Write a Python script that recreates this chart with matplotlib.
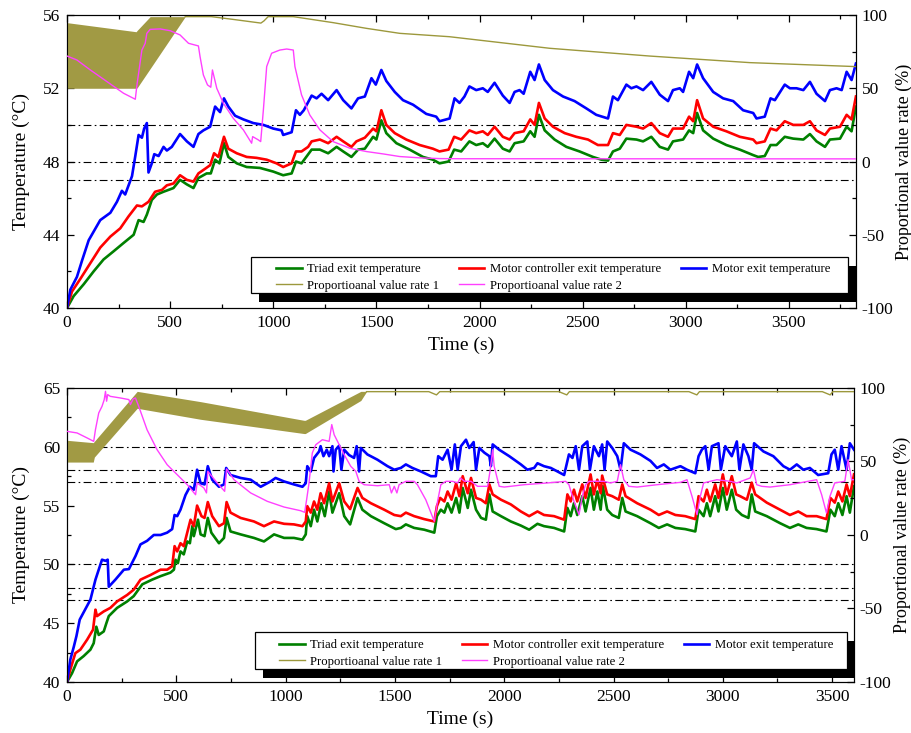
import matplotlib
matplotlib.use("Agg")
import matplotlib.pyplot as plt
from matplotlib.patches import Rectangle
from matplotlib.ticker import MultipleLocator

plt.rcParams['font.family'] = ['Liberation Serif', 'DejaVu Serif']
plt.rcParams['axes.unicode_minus'] = False

# ---------------- top panel data ----------------
top_blue_t = [0, 16, 48, 73, 105, 161, 210, 242, 266, 282, 315, 331, 347, 363, 374, 387, 395, 411, 423, 444,
              468, 484, 508, 548, 581, 613, 637, 661, 694, 718, 742, 761, 782, 815, 855, 903, 952, 1000, 1040,
              1048, 1089, 1110, 1129, 1148, 1186, 1210, 1234, 1266, 1307, 1339, 1379, 1411, 1444, 1476, 1497,
              1524, 1548, 1589, 1629, 1678, 1742, 1790, 1806, 1855, 1879, 1903, 1927, 1951, 1984, 2016, 2040,
              2073, 2113, 2146, 2170, 2194, 2214, 2246, 2267, 2288, 2316, 2356, 2405, 2461, 2518, 2566, 2623,
              2647, 2671, 2712, 2736, 2761, 2793, 2833, 2874, 2914, 2938, 2971, 2987, 3016, 3036, 3055, 3084,
              3133, 3181, 3230, 3278, 3327, 3343, 3383, 3411, 3432, 3480, 3505, 3537, 3570, 3602, 3634, 3675,
              3699, 3731, 3756, 3780, 3804, 3825]
top_blue = [40.0, 41.0, 41.7, 42.6, 43.7, 44.8, 45.2, 45.8, 46.4, 46.2, 47.2, 48.3, 49.45, 49.3, 49.8, 50.1,
            47.4, 47.9, 48.4, 48.3, 48.8, 48.6, 48.8, 49.5, 49.1, 48.8, 49.5, 49.7, 49.9, 51.0, 50.7, 51.45,
            51.0, 50.5, 50.3, 50.1, 50.0, 49.8, 49.7, 49.45, 49.6, 50.8, 50.55, 50.8, 51.6, 51.45, 51.7, 51.35,
            51.9, 51.35, 50.9, 51.45, 51.55, 52.55, 52.2, 53.0, 52.4, 51.8, 51.35, 51.1, 50.6, 50.45, 50.2,
            50.35, 51.45, 51.2, 51.55, 52.1, 51.9, 52.0, 51.8, 52.3, 51.6, 51.2, 51.8, 51.9, 51.7, 52.9, 52.45,
            53.3, 52.45, 51.9, 51.55, 51.3, 50.9, 50.55, 50.35, 51.55, 51.35, 52.2, 52.0, 52.1, 51.9, 52.35,
            51.65, 51.3, 51.9, 52.0, 51.8, 52.9, 52.55, 53.3, 52.55, 51.8, 51.45, 51.3, 50.8, 50.65, 50.35,
            50.45, 51.45, 51.35, 52.2, 52.0, 52.0, 51.9, 52.35, 51.7, 51.3, 51.9, 52.0, 51.9, 52.9, 52.45, 53.35]

top_red_t = [0, 24, 65, 113, 161, 210, 258, 298, 339, 363, 395, 427, 460, 484, 516, 548, 581, 613, 637, 669,
             694, 713, 734, 761, 782, 823, 871, 919, 968, 1016, 1048, 1089, 1110, 1137, 1169, 1186, 1226, 1266,
             1307, 1339, 1379, 1403, 1444, 1484, 1500, 1524, 1548, 1589, 1645, 1710, 1774, 1806, 1850, 1877,
             1911, 1951, 1984, 2016, 2040, 2073, 2113, 2146, 2170, 2214, 2246, 2267, 2288, 2316, 2356, 2413,
             2469, 2526, 2574, 2623, 2647, 2680, 2712, 2761, 2793, 2833, 2874, 2914, 2938, 2987, 3016, 3036,
             3055, 3084, 3133, 3197, 3262, 3327, 3343, 3383, 3411, 3440, 3480, 3521, 3570, 3602, 3634, 3675,
             3699, 3748, 3780, 3804, 3825]
top_red = [40.0, 40.9, 41.6, 42.45, 43.3, 43.9, 44.35, 45.0, 45.6, 45.55, 45.8, 46.35, 46.45, 46.7, 46.8,
           47.25, 47.0, 46.9, 47.35, 47.6, 47.8, 48.45, 48.25, 49.35, 48.7, 48.45, 48.25, 48.2, 48.1, 47.9,
           47.7, 47.9, 48.55, 48.55, 48.8, 49.1, 49.2, 49.0, 49.35, 49.1, 48.8, 49.1, 49.3, 49.8, 49.65, 50.8,
           50.0, 49.55, 49.2, 48.9, 48.7, 48.55, 48.65, 49.35, 49.2, 49.7, 49.55, 49.65, 49.45, 49.9, 49.35,
           49.2, 49.55, 49.65, 50.3, 50.0, 51.2, 50.35, 49.9, 49.55, 49.35, 49.2, 48.9, 48.9, 49.55, 49.45,
           50.0, 49.9, 49.8, 50.1, 49.55, 49.35, 49.8, 49.8, 50.45, 50.2, 51.35, 50.35, 49.9, 49.65, 49.35,
           49.2, 49.0, 49.1, 49.8, 49.7, 50.2, 50.0, 50.0, 50.2, 49.7, 49.45, 49.8, 49.9, 50.55, 50.3, 51.55]

top_green_t = [0, 32, 81, 129, 177, 226, 274, 323, 347, 371, 387, 411, 436, 468, 492, 516, 548, 581, 613, 637,
               677, 697, 718, 739, 761, 782, 823, 871, 935, 1000, 1048, 1089, 1110, 1137, 1186, 1226, 1266,
               1307, 1339, 1379, 1411, 1444, 1484, 1500, 1524, 1548, 1597, 1661, 1726, 1774, 1806, 1850, 1877,
               1911, 1951, 1984, 2016, 2040, 2073, 2113, 2146, 2170, 2214, 2246, 2267, 2288, 2316, 2364, 2421,
               2485, 2550, 2591, 2623, 2647, 2680, 2712, 2761, 2793, 2833, 2874, 2914, 2938, 2987, 3016, 3036,
               3055, 3084, 3133, 3197, 3262, 3327, 3351, 3383, 3411, 3440, 3480, 3521, 3570, 3602, 3634, 3675,
               3699, 3748, 3780, 3804, 3825]
top_green = [40.0, 40.65, 41.3, 42.0, 42.65, 43.1, 43.55, 44.0, 44.8, 44.7, 45.1, 45.9, 46.2, 46.35, 46.45,
             46.55, 47.0, 46.75, 46.55, 47.1, 47.35, 47.35, 48.1, 47.9, 49.0, 48.25, 47.9, 47.7, 47.65, 47.45,
             47.25, 47.35, 48.0, 47.9, 48.65, 48.65, 48.45, 48.8, 48.55, 48.25, 48.65, 48.7, 49.35, 49.2, 50.25,
             49.55, 49.0, 48.65, 48.25, 48.1, 47.9, 48.0, 48.65, 48.55, 49.1, 48.9, 49.0, 48.8, 49.25, 48.7,
             48.55, 49.0, 49.1, 49.65, 49.35, 50.55, 49.7, 49.2, 48.8, 48.55, 48.25, 48.1, 48.05, 48.55, 48.7,
             49.25, 49.2, 49.1, 49.35, 48.8, 48.65, 49.1, 49.2, 49.7, 49.55, 50.65, 49.7, 49.25, 48.9, 48.65,
             48.35, 48.25, 48.3, 48.9, 48.9, 49.35, 49.25, 49.2, 49.5, 49.1, 48.8, 49.2, 49.25, 49.9, 49.65, 51.0]

top_pink_t = [0, 48, 113, 194, 274, 331, 339, 363, 379, 387, 403, 452, 500, 548, 589, 637, 645, 661, 681, 697,
              705, 726, 758, 806, 855, 895, 900, 927, 939, 952, 968, 992, 1032, 1065, 1097, 1105, 1137, 1177,
              1226, 1290, 1371, 1452, 1532, 1613, 1710, 1806, 1900, 3825]
top_pink = [72.0, 69.3, 62.5, 54.5, 46.6, 42.5, 52.3, 76.1, 80.7, 87.5, 90.2, 90.5, 89.3, 86.4, 80.7, 78.9,
            71.6, 59.1, 52.3, 50.7, 62.5, 50.0, 39.8, 29.5, 21.6, 12.5, 17.0, 14.8, 13.6, 35.2, 64.8, 73.9,
            76.1, 76.8, 76.1, 64.8, 45.5, 31.8, 21.6, 13.6, 9.1, 6.8, 5.2, 3.4, 2.5, 2.0, 1.9, 1.8]

top_olive_t = [573, 700, 806, 940, 955, 975, 1097, 1290, 1452, 1613, 1854, 2340, 2825, 3311, 3825]
top_olive = [98.9, 98.9, 97.0, 94.5, 96.0, 98.9, 98.9, 94.8, 90.9, 87.5, 85.2, 77.3, 72.0, 67.5, 64.8]

top_band_t = [0, 335, 340, 403, 573]
top_band_hi = [94.8, 88.6, 89.5, 98.9, 98.9]
top_band_lo = [50.0, 50.0, 50.3, 63.4, 98.9]

# ---------------- bottom panel data ----------------
bot_blue_t = [0, 15, 31, 43, 58, 84, 107, 122, 130, 145, 160, 176, 186, 191, 221, 260, 283, 313, 336, 366,
              397, 428, 458, 481, 492, 504, 519, 542, 562, 580, 595, 611, 629, 644, 664, 695, 718, 728, 748,
              794, 840, 886, 931, 954, 993, 1038, 1077, 1092, 1099, 1115, 1130, 1153, 1160, 1173, 1188, 1199,
              1214, 1219, 1229, 1245, 1255, 1268, 1290, 1313, 1325, 1336, 1344, 1374, 1420, 1466, 1497, 1527,
              1550, 1580, 1619, 1664, 1687, 1698, 1718, 1741, 1759, 1774, 1787, 1802, 1825, 1840, 1860, 1871,
              1886, 1909, 1932, 1939, 1947, 1977, 2023, 2076, 2106, 2137, 2152, 2182, 2213, 2243, 2274, 2296,
              2312, 2327, 2342, 2357, 2380, 2392, 2410, 2433, 2448, 2459, 2471, 2494, 2517, 2532, 2547, 2578,
              2623, 2669, 2699, 2730, 2760, 2806, 2836, 2874, 2889, 2904, 2920, 2935, 2950, 2980, 2991, 3011,
              3041, 3064, 3076, 3094, 3117, 3132, 3143, 3186, 3231, 3277, 3307, 3338, 3368, 3398, 3436, 3482,
              3497, 3512, 3528, 3543, 3566, 3581, 3600]
bot_blue = [40.0, 41.9, 43.0, 43.9, 45.3, 46.2, 47.0, 48.1, 48.7, 49.55, 50.4, 50.3, 50.4, 48.1, 48.7, 49.55,
            49.6, 50.7, 51.7, 52.0, 52.5, 52.5, 52.7, 53.0, 54.2, 54.1, 54.65, 55.9, 56.6, 56.35, 58.05, 56.9,
            56.8, 58.35, 57.2, 56.6, 56.8, 58.2, 57.6, 57.35, 57.2, 56.6, 57.05, 57.35, 57.05, 56.8, 56.6,
            56.9, 58.35, 57.9, 59.05, 59.6, 60.05, 59.2, 59.75, 59.2, 60.05, 57.9, 59.75, 60.1, 58.05, 59.75,
            59.3, 59.05, 60.05, 57.9, 59.9, 59.35, 58.9, 58.35, 58.05, 58.2, 58.5, 58.2, 57.9, 57.5, 57.5,
            59.2, 58.9, 59.75, 58.05, 60.2, 58.05, 60.05, 60.6, 59.9, 60.4, 58.05, 59.9, 59.5, 59.2, 58.35,
            60.2, 59.75, 59.2, 58.5, 58.05, 58.2, 58.6, 58.35, 58.2, 57.9, 57.6, 59.35, 59.05, 60.05, 58.05,
            60.05, 60.45, 58.05, 60.05, 59.2, 60.2, 58.05, 60.45, 59.9, 59.2, 58.05, 60.3, 59.75, 59.35, 58.8,
            58.2, 58.5, 58.05, 58.35, 58.05, 57.75, 59.2, 59.75, 60.05, 58.05, 60.05, 60.3, 58.05, 60.05,
            59.2, 60.45, 58.05, 60.2, 59.2, 58.05, 60.3, 59.6, 59.2, 58.35, 58.05, 58.5, 58.05, 58.2, 57.6,
            57.75, 59.35, 59.75, 58.05, 60.05, 58.05, 60.3, 59.75]

bot_red_t = [0, 15, 38, 61, 92, 119, 130, 137, 168, 198, 229, 275, 305, 336, 382, 428, 458, 481, 492, 504,
             519, 534, 550, 565, 580, 595, 615, 629, 644, 664, 695, 718, 730, 748, 794, 855, 901, 947, 993,
             1038, 1077, 1092, 1099, 1115, 1130, 1145, 1160, 1176, 1199, 1214, 1245, 1268, 1295, 1329, 1351,
             1390, 1451, 1497, 1527, 1550, 1588, 1634, 1680, 1692, 1707, 1726, 1741, 1759, 1780, 1795, 1810,
             1833, 1848, 1871, 1894, 1916, 1932, 1947, 1985, 2030, 2076, 2114, 2152, 2182, 2228, 2274, 2289,
             2304, 2319, 2334, 2357, 2372, 2395, 2410, 2426, 2441, 2448, 2471, 2494, 2524, 2540, 2555, 2608,
             2669, 2707, 2745, 2783, 2828, 2874, 2889, 2912, 2927, 2942, 2965, 2980, 3000, 3018, 3041, 3061,
             3079, 3110, 3132, 3148, 3201, 3262, 3307, 3345, 3383, 3429, 3474, 3492, 3512, 3528, 3547, 3566,
             3581, 3600]
bot_red = [40.0, 41.05, 42.45, 42.75, 43.6, 44.45, 46.15, 45.6, 46.0, 46.3, 46.85, 47.4, 47.85, 48.7, 49.1,
           49.55, 49.55, 49.85, 51.55, 51.1, 51.8, 51.55, 52.7, 53.8, 53.25, 55.0, 54.1, 53.95, 55.3, 54.1,
           53.25, 53.5, 55.3, 54.4, 53.95, 53.65, 53.25, 53.65, 53.45, 53.4, 53.25, 53.65, 54.95, 54.4, 55.35,
           54.65, 56.05, 55.2, 56.9, 55.35, 56.9, 55.35, 54.7, 56.5, 55.65, 55.2, 54.65, 54.2, 54.1, 54.4,
           54.1, 53.85, 53.65, 54.95, 55.65, 55.35, 56.2, 55.5, 56.9, 55.8, 57.5, 56.05, 57.35, 55.65, 55.5,
           55.2, 56.8, 55.95, 55.5, 55.1, 54.5, 54.1, 54.5, 54.2, 54.1, 53.8, 55.95, 55.35, 56.35, 55.35,
           56.8, 55.65, 57.65, 55.95, 57.2, 56.05, 57.55, 55.95, 55.8, 55.5, 56.8, 55.8, 55.2, 54.65, 54.2,
           54.5, 54.2, 54.1, 53.85, 55.8, 55.35, 56.35, 55.35, 56.8, 55.65, 57.65, 55.95, 57.5, 55.95, 55.8,
           55.5, 56.95, 55.95, 55.25, 54.65, 54.2, 54.5, 54.1, 54.1, 53.85, 55.65, 55.25, 56.2, 55.35, 56.8,
           55.8, 57.65]

bot_green_t = [0, 23, 46, 76, 107, 122, 134, 145, 168, 180, 191, 229, 275, 305, 344, 389, 428, 473, 489, 496,
               507, 519, 534, 550, 562, 573, 580, 599, 611, 629, 644, 660, 695, 718, 730, 748, 794, 855, 901,
               947, 993, 1038, 1077, 1092, 1099, 1115, 1130, 1145, 1163, 1179, 1199, 1214, 1245, 1268, 1295,
               1329, 1351, 1390, 1451, 1504, 1527, 1550, 1588, 1634, 1680, 1692, 1710, 1726, 1741, 1759, 1780,
               1795, 1810, 1833, 1848, 1871, 1894, 1916, 1932, 1947, 1985, 2030, 2076, 2114, 2152, 2182, 2228,
               2274, 2289, 2304, 2319, 2334, 2357, 2372, 2395, 2410, 2426, 2441, 2451, 2471, 2494, 2524, 2540,
               2555, 2608, 2669, 2707, 2745, 2783, 2828, 2874, 2889, 2912, 2927, 2942, 2965, 2980, 3000, 3018,
               3041, 3061, 3087, 3117, 3132, 3148, 3201, 3262, 3307, 3345, 3383, 3429, 3474, 3492, 3512, 3528,
               3547, 3566, 3581, 3600]
bot_green = [40.0, 40.75, 41.75, 42.2, 42.75, 43.3, 44.7, 44.0, 44.3, 45.0, 45.6, 46.3, 46.85, 47.3, 48.3,
             48.7, 49.0, 49.3, 49.55, 50.4, 50.1, 51.1, 50.85, 51.95, 51.8, 53.25, 52.4, 53.8, 52.55, 52.4,
             53.95, 52.7, 51.8, 52.25, 53.95, 52.8, 52.55, 52.25, 51.95, 52.55, 52.25, 52.25, 52.1, 52.55,
             54.1, 53.25, 54.65, 53.65, 55.2, 54.1, 56.2, 54.4, 56.05, 54.1, 53.4, 55.65, 54.65, 54.1, 53.5,
             53.0, 53.1, 53.4, 53.1, 52.95, 52.7, 54.1, 54.65, 54.4, 55.2, 54.4, 55.65, 54.4, 56.5, 54.8, 56.35,
             54.65, 53.95, 53.8, 55.95, 54.5, 54.1, 53.65, 53.3, 52.95, 53.45, 53.25, 53.1, 52.8, 54.8, 54.1,
             55.2, 54.2, 55.8, 54.5, 56.5, 54.65, 56.2, 54.65, 56.65, 54.65, 54.2, 53.95, 55.65, 54.5, 54.1,
             53.5, 53.1, 53.4, 53.1, 53.0, 52.8, 54.65, 54.1, 55.2, 54.1, 55.8, 54.5, 56.5, 54.65, 56.35, 54.65,
             54.2, 53.95, 55.95, 54.5, 54.1, 53.5, 53.1, 53.4, 53.1, 53.0, 52.8, 54.65, 54.1, 55.2, 54.2, 55.8,
             54.4, 56.65]

bot_pink_t = [0, 46, 92, 122, 130, 145, 160, 170, 176, 181, 186, 198, 244, 283, 290, 302, 313, 328, 366, 412,
              458, 504, 550, 588, 595, 626, 638, 644, 687, 721, 730, 764, 840, 916, 993, 1069, 1087, 1096, 1107,
              1122, 1138, 1168, 1199, 1211, 1222, 1245, 1268, 1298, 1321, 1336, 1359, 1420, 1474, 1484, 1497,
              1509, 1519, 1550, 1588, 1603, 1641, 1680, 1695, 1710, 1733, 1764, 1787, 1799, 1818, 1848, 1878,
              1924, 1936, 1947, 1954, 1977, 2000, 2091, 2198, 2281, 2296, 2319, 2342, 2357, 2372, 2388, 2456,
              2486, 2517, 2532, 2547, 2570, 2608, 2699, 2806, 2836, 2859, 2882, 2897, 2912, 2973, 3034, 3064,
              3125, 3140, 3155, 3178, 3216, 3307, 3429, 3452, 3474, 3490, 3512, 3558, 3573, 3589, 3600]
bot_pink = [70.5, 69.4, 66.0, 63.7, 71.6, 83.0, 87.5, 92.0, 97.7, 91.0, 95.5, 94.3, 93.2, 92.1, 88.7, 92.5,
            93.2, 87.5, 71.6, 58.0, 47.8, 41.0, 34.2, 27.4, 35.4, 32.0, 28.6, 43.3, 35.4, 29.7, 44.9, 37.6,
            28.6, 22.9, 19.0, 16.5, 15.4, 24.0, 35.4, 55.8, 61.4, 64.8, 63.7, 75.1, 68.2, 61.4, 54.6, 46.7,
            43.3, 36.5, 34.2, 33.5, 34.2, 28.6, 33.1, 28.6, 34.2, 36.5, 36.5, 34.2, 24.0, 9.3, 22.9, 34.2, 36.5,
            36.5, 35.4, 38.8, 36.5, 36.5, 33.1, 33.1, 44.4, 58.0, 46.7, 33.1, 32.6, 34.2, 35.4, 36.5, 34.2,
            22.9, 13.8, 26.3, 34.2, 36.5, 36.5, 35.4, 36.5, 47.8, 37.6, 33.1, 32.6, 34.2, 35.8, 37.6, 26.3,
            13.8, 26.3, 35.4, 37.6, 36.5, 35.4, 38.8, 44.4, 34.2, 33.1, 32.6, 34.2, 37.6, 27.4, 15.0, 26.3,
            35.4, 36.5, 51.2, 37.6, 37.6]

bot_olive_t = [1370, 1655, 1690, 1705, 2250, 2286, 2298, 2845, 2881, 2893, 3455, 3491, 3503, 3600]
bot_olive = [97.5, 97.5, 95.3, 97.5, 97.5, 95.3, 97.5, 97.5, 95.3, 97.5, 97.5, 95.3, 97.5, 97.5]

bot_band_t = [0, 120, 125, 321, 611, 1084, 1090, 1344, 1370]
bot_band_hi = [64.4, 62.8, 63.7, 97.7, 90.7, 78.0, 78.0, 97.7, 97.7]
bot_band_lo = [49.6, 49.6, 53.0, 86.2, 78.7, 69.0, 69.0, 91.5, 97.5]

top_refs = [50, 48, 47]
bot_refs = [60, 58, 57, 50, 48, 47]

labels = ['Triad exit temperature', 'Motor controller exit temperature', 'Motor exit temperature',
          'Proportioanal value rate 1', 'Proportioanal value rate 2']

GREEN, RED, BLUE = '#008000', '#ff0000', '#0000ff'
OLIVE, BAND, PINK = '#9c983c', '#a19a44', '#ff40ff'

fig = plt.figure(figsize=(9.12, 7.33), dpi=100)


def panel(rect, xmax, ylim, ymaj, refs, temps, pink, olive, band, frame, anchor, shadow_off):
    ax = fig.add_axes(rect)
    ax2 = ax.twinx()
    for r in refs:
        ax.axhline(r, color='black', lw=0.8, ls=(0, (7, 3, 1.5, 3)), zorder=1)
    hg, = ax.plot(temps[0][0], temps[0][1], color=GREEN, lw=1.9, zorder=2)
    hr, = ax.plot(temps[1][0], temps[1][1], color=RED, lw=1.9, zorder=3)
    hb, = ax.plot(temps[2][0], temps[2][1], color=BLUE, lw=1.9, zorder=4)
    ax2.fill_between(band[0], band[2], band[1], color=BAND, lw=0, zorder=1)
    ho, = ax2.plot(olive[0], olive[1], color=OLIVE, lw=1.0, zorder=2)
    hp, = ax2.plot(pink[0], pink[1], color=PINK, lw=1.0, zorder=3)

    ax.set_xlim(0, xmax)
    ax.set_ylim(*ylim)
    ax2.set_ylim(-100, 100)
    ax.xaxis.set_major_locator(MultipleLocator(500))
    ax.xaxis.set_minor_locator(MultipleLocator(250))
    ax.yaxis.set_major_locator(MultipleLocator(ymaj))
    ax.yaxis.set_minor_locator(MultipleLocator(ymaj / 2))
    ax2.yaxis.set_major_locator(MultipleLocator(50))
    ax2.yaxis.set_minor_locator(MultipleLocator(25))
    ax.tick_params(axis='x', which='both', direction='in', top=True, labelsize=12.5, pad=5)
    ax.tick_params(axis='y', which='both', direction='in', labelsize=12.5, pad=5)
    ax2.tick_params(axis='y', which='both', direction='in', labelsize=12.5, pad=4)
    for a in (ax, ax2):
        a.tick_params(which='major', length=5, width=0.9)
        a.tick_params(which='minor', length=3, width=0.9)

    ax.set_xlabel('Time (s)', fontsize=14, labelpad=4)
    ax.set_ylabel('Temperature (\u00b0C)', fontsize=14, labelpad=9)
    ax2.set_ylabel('Proportional value rate (%)', fontsize=13, labelpad=2)

    # legend box with a black offset shadow, drawn in axes fractions
    x0, y0, w, h = frame
    ax2.add_patch(Rectangle((x0 + shadow_off[0], y0 - shadow_off[1]), w, h, transform=ax2.transAxes,
                            facecolor='black', edgecolor='none', zorder=5, clip_on=False))
    ax2.add_patch(Rectangle((x0, y0), w, h, transform=ax2.transAxes, facecolor='white',
                            edgecolor='black', lw=0.9, zorder=5.1, clip_on=False))
    leg = ax2.legend([hg, ho, hr, hp, hb], [labels[0], labels[3], labels[1], labels[4], labels[2]],
                     ncol=3, loc='center left', bbox_to_anchor=anchor, borderaxespad=0, frameon=False,
                     fontsize=9.2, handlelength=2.0, handletextpad=0.4, labelspacing=0.35, borderpad=0,
                     columnspacing=1.57)
    leg.set_zorder(6)


panel([0.0735, 0.5798, 0.865, 0.3997], 3825, (40, 56), 4, top_refs,
      [(top_green_t, top_green), (top_red_t, top_red), (top_blue_t, top_blue)],
      (top_pink_t, top_pink), (top_olive_t, top_olive),
      (top_band_t, top_band_hi, top_band_lo),
      (0.2332, 0.0512, 0.7567, 0.1229), (0.2649, 0.104), (0.0101, 0.0307))
panel([0.0735, 0.0696, 0.8629, 0.4011], 3600, (40, 65), 5, bot_refs,
      [(bot_green_t, bot_green), (bot_red_t, bot_red), (bot_blue_t, bot_blue)],
      (bot_pink_t, bot_pink), (bot_olive_t, bot_olive),
      (bot_band_t, bot_band_hi, bot_band_lo),
      (0.2389, 0.0442, 0.7522, 0.1258), (0.2694, 0.0976), (0.0102, 0.0306))

fig.savefig('out.png', dpi=100)
